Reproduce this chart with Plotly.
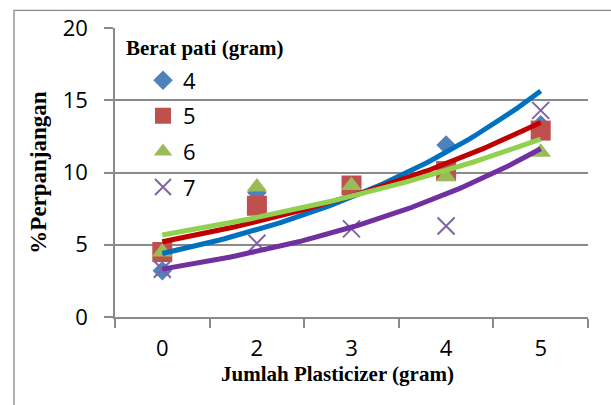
import numpy as np
import plotly.graph_objects as go

# ---- data ----
x_labels = ["0", "2", "3", "4", "5"]          # Jumlah Plasticizer (gram)
x_pos = [1, 2, 3, 4, 5]                        # category positions
series_names = ["4", "5", "6", "7"]            # Berat pati (gram)
s4 = [3.2, 8.6, 9.0, 11.9, 13.3]
s5 = [4.5, 7.7, 9.1, 10.1, 12.9]
s6 = [4.5, 9.0, 9.1, 9.7, 11.4]
s7 = [3.3, 5.1, 6.1, 6.3, 14.3]
y_ticks = [0, 5, 10, 15, 20]

marker_colors = ["#4F81BD", "#C0504D", "#9BBB59", "#8064A2"]
trend_colors = ["#0070C0", "#C00000", "#92D050", "#7030A0"]
symbols = ["diamond", "square", "triangle-up", "x-thin"]
sizes = [15, 20, 18, 17]

W, H = 611, 405
L, R, T, B = 115, 23, 23, 88
pw, ph = W - L - R, H - T - B


def px(xp):
    return (xp - L) / pw


def py(yp):
    return (H - B - yp) / ph


GRAY = "#8A8A8A"
fig = go.Figure()

all_series = [s4, s5, s6, s7]
for i, (name, ys) in enumerate(zip(series_names, all_series)):
    mk = dict(symbol=symbols[i], size=sizes[i], color=marker_colors[i])
    if symbols[i] == "x-thin":
        mk["line"] = dict(color=marker_colors[i], width=2)
    fig.add_trace(go.Scatter(
        x=x_pos, y=ys, mode="markers", name=name, marker=mk,
        legendgroup=name, showlegend=True,
    ))

# exponential trendlines (least-squares fit of ln(y) vs x, like Excel)
xs = np.linspace(x_pos[0], x_pos[-1], 80)
for i, ys in enumerate(all_series):
    b, lna = np.polyfit(np.array(x_pos, float), np.log(np.array(ys, float)), 1)
    fig.add_trace(go.Scatter(
        x=xs, y=np.exp(lna + b * xs), mode="lines",
        line=dict(color=trend_colors[i], width=5),
        showlegend=False, hoverinfo="skip",
    ))

fig.update_layout(
    width=W, height=H,
    margin=dict(l=L, r=R, t=T, b=B, pad=0),
    paper_bgcolor="white", plot_bgcolor="white",
    font=dict(family="Open Sans", size=22, color="black"),
    showlegend=True,
    legend=dict(
        x=px(143), y=py(55), xanchor="left", yanchor="top",
        bgcolor="rgba(0,0,0,0)", borderwidth=0,
        traceorder="grouped", tracegroupgap=4,
        font=dict(family="Open Sans", size=22, color="black"),
        itemsizing="trace",
    ),
    xaxis=dict(
        range=[0.5, 5.5], tickmode="array", tickvals=x_pos, ticktext=x_labels,
        ticks="", showgrid=False, zeroline=False,
        showline=True, linecolor=GRAY, linewidth=1.5,
        tickfont=dict(family="Open Sans", size=22, color="black"),
        ticklabelstandoff=11,
        minor=dict(tickmode="array", tickvals=[0.5, 1.5, 2.5, 3.5, 4.5, 5.5],
                   ticks="outside", ticklen=9, tickwidth=1.5, tickcolor=GRAY,
                   showgrid=False),
    ),
    yaxis=dict(
        range=[0, 20], tickmode="array", tickvals=y_ticks,
        ticks="outside", ticklen=9, tickwidth=1.5, tickcolor=GRAY,
        showgrid=True, gridcolor=GRAY, gridwidth=1.5, zeroline=False,
        showline=True, linecolor=GRAY, linewidth=1.5,
        tickfont=dict(family="Open Sans", size=22, color="black"),
        ticklabelstandoff=12,
        title=dict(text="<b>%Perpanjangan</b>", standoff=10,
                   font=dict(family="Liberation Serif", size=23, color="black")),
    ),
    annotations=[
        dict(text="<b>Jumlah Plasticizer (gram)</b>", xref="paper", yref="paper",
             x=px(337), y=py(375), xanchor="center", yanchor="middle",
             showarrow=False,
             font=dict(family="Liberation Serif", size=21, color="black")),
        dict(text="<b>Berat pati (gram)</b>", xref="paper", yref="paper",
             x=px(124), y=py(43), xanchor="left", yanchor="middle",
             showarrow=False,
             font=dict(family="Liberation Serif", size=21, color="black")),
    ],
    shapes=[
        dict(type="rect", xref="paper", yref="paper",
             x0=px(14), x1=px(640), y0=py(440), y1=py(5),
             line=dict(color=GRAY, width=1.3), layer="below"),
    ],
)

fig.write_html("out.html")
